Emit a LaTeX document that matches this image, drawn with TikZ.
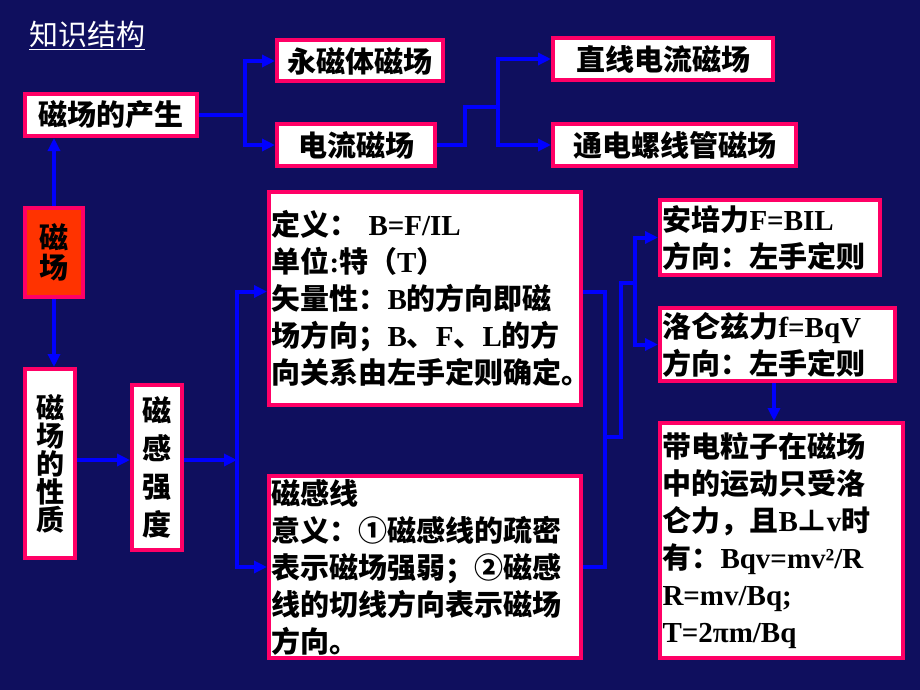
\documentclass[tikz,border=0pt]{standalone}
\usepackage{fontspec}
\setmainfont{Noto Sans CJK SC}[UprightFont={*/B}]
\newfontfamily\titlefont{Noto Sans CJK SC}
\newfontfamily\enfont{Liberation Serif}
\newcommand{\lat}[1]{{\enfont\bfseries #1}}
\usetikzlibrary{arrows.meta, positioning}
\definecolor{bgblue}{RGB}{15,15,94}
\definecolor{rimpink}{RGB}{255,0,102}
\definecolor{fieldred}{RGB}{255,51,0}

\begin{document}
\begin{tikzpicture}[
        x=1pt, y=-1pt,
        box/.style={rectangle, draw=rimpink, line width=4pt, fill=white, inner sep=2.5pt, align=center, font=\fontsize{29}{37}\selectfont},
        textbox/.style={box, align=left, text width=#1},
        conn/.style={draw=blue, line width=4pt},
        arrow/.style={conn, -{Triangle[length=13pt, width=12pt]}}
    ]
        % Background and title
        \fill[bgblue] (0,0) rectangle (920,690);
        \node[anchor=west, inner sep=0pt, text=white, font=\fontsize{29}{34}\selectfont\titlefont] (title) at (29,35) {\underline{知识结构}};

        % Origin of the field
        \node[box, minimum width=172pt, minimum height=42pt] (birth) at (111,115) {磁场的产生};
        \node[box, minimum width=166pt, minimum height=41pt] (perm) at (360,61) {永磁体磁场};
        \node[box, minimum width=158pt, minimum height=42pt] (cur) at (356,145) {电流磁场};
        \node[box, minimum width=220pt, minimum height=42pt] (wire) at (663,59) {直线电流磁场};
        \node[box, minimum width=243pt, minimum height=42pt] (coil) at (674.5,145) {通电螺线管磁场};

        % Field and its properties
        \node[box, fill=fieldred, minimum width=58pt, minimum height=89pt, font=\fontsize{29}{30}\selectfont] (field) at (54,252.5) {磁\\场};
        \node[box, minimum width=50pt, minimum height=189pt, font=\fontsize{28}{28}\selectfont] (prop) at (50,463.5) {磁\\场\\的\\性\\质};
        \node[box, minimum width=50pt, minimum height=165pt, font=\fontsize{29}{38}\selectfont] (Bstr) at (157,467.5) {磁\\感\\强\\度};
        \node[textbox=307pt, minimum height=213pt] (def) at (425,298.5) {定义：\hspace{10pt}\lat{B=F/IL}\\单位\lat{:}特（\lat{T}）\\矢量性：\lat{B}的方向即磁\\场方向；\lat{B}、\lat{F}、\lat{L}的方\\向关系由左手定则确定。};
        \node[textbox=307pt, minimum height=182pt] (flux) at (425,567) {磁感线\\意义：①磁感线的疏密\\表示磁场强弱；②磁感\\线的切线方向表示磁场\\方向。};

        % Forces
        \node[textbox=215pt, minimum height=75pt] (amp) at (770,237.5) {安培力\lat{F=BIL}\\方向：左手定则};
        \node[textbox=230pt, minimum height=73pt] (lor) at (777.5,344.5) {洛仑兹力\lat{f=BqV}\\方向：左手定则};
        \node[textbox=238pt, minimum height=235pt] (charge) at (781.5,540.5) {带电粒子在磁场\\中的运动只受洛\\仑力，且\lat{B}⊥\lat{v}时\\有：\lat{Bqv=mv²/R}\\\lat{R=mv/Bq;}\\\lat{T=2πm/Bq}};

        % Junction points
        \coordinate (jA) at (245,115);
        \coordinate (jC) at (498,107);
        \coordinate (jB) at (237,460);
        \coordinate (jD) at (605,437);
        \coordinate (jE) at (635,283);

        % Upper arrows
        \draw[arrow] (birth.east) -- (jA) |- (perm.west);
        \draw[arrow] (jA) |- (cur.west);
        \draw[arrow] (cur.east) -- ++(28,0) |- (jC) |- (wire.west);
        \draw[arrow] (jC) |- (coil.west);
        \draw[arrow] (field.north) -- (field.north |- birth.south);
        \draw[arrow] (field.south) -- (field.south |- prop.north);

        % Lower arrows
        \draw[arrow] (prop.east |- jB) -- (Bstr.west |- jB);
        \draw[arrow] (Bstr.east |- jB) -- (jB);
        \draw[arrow] (jB) |- ([yshift=7pt]def.west);
        \draw[arrow] (jB) |- (flux.west);
        \draw[conn] ([yshift=7pt]def.east) -| (jD);
        \draw[conn] (flux.east) -| (jD);
        \draw[arrow] (jD) -- ++(16,0) |- (jE) |- (amp.west);
        \draw[arrow] (jE) |- (lor.west);
        \draw[arrow] (lor.south -| 774,0) -- (charge.north -| 774,0);
    \end{tikzpicture}
\end{document}
